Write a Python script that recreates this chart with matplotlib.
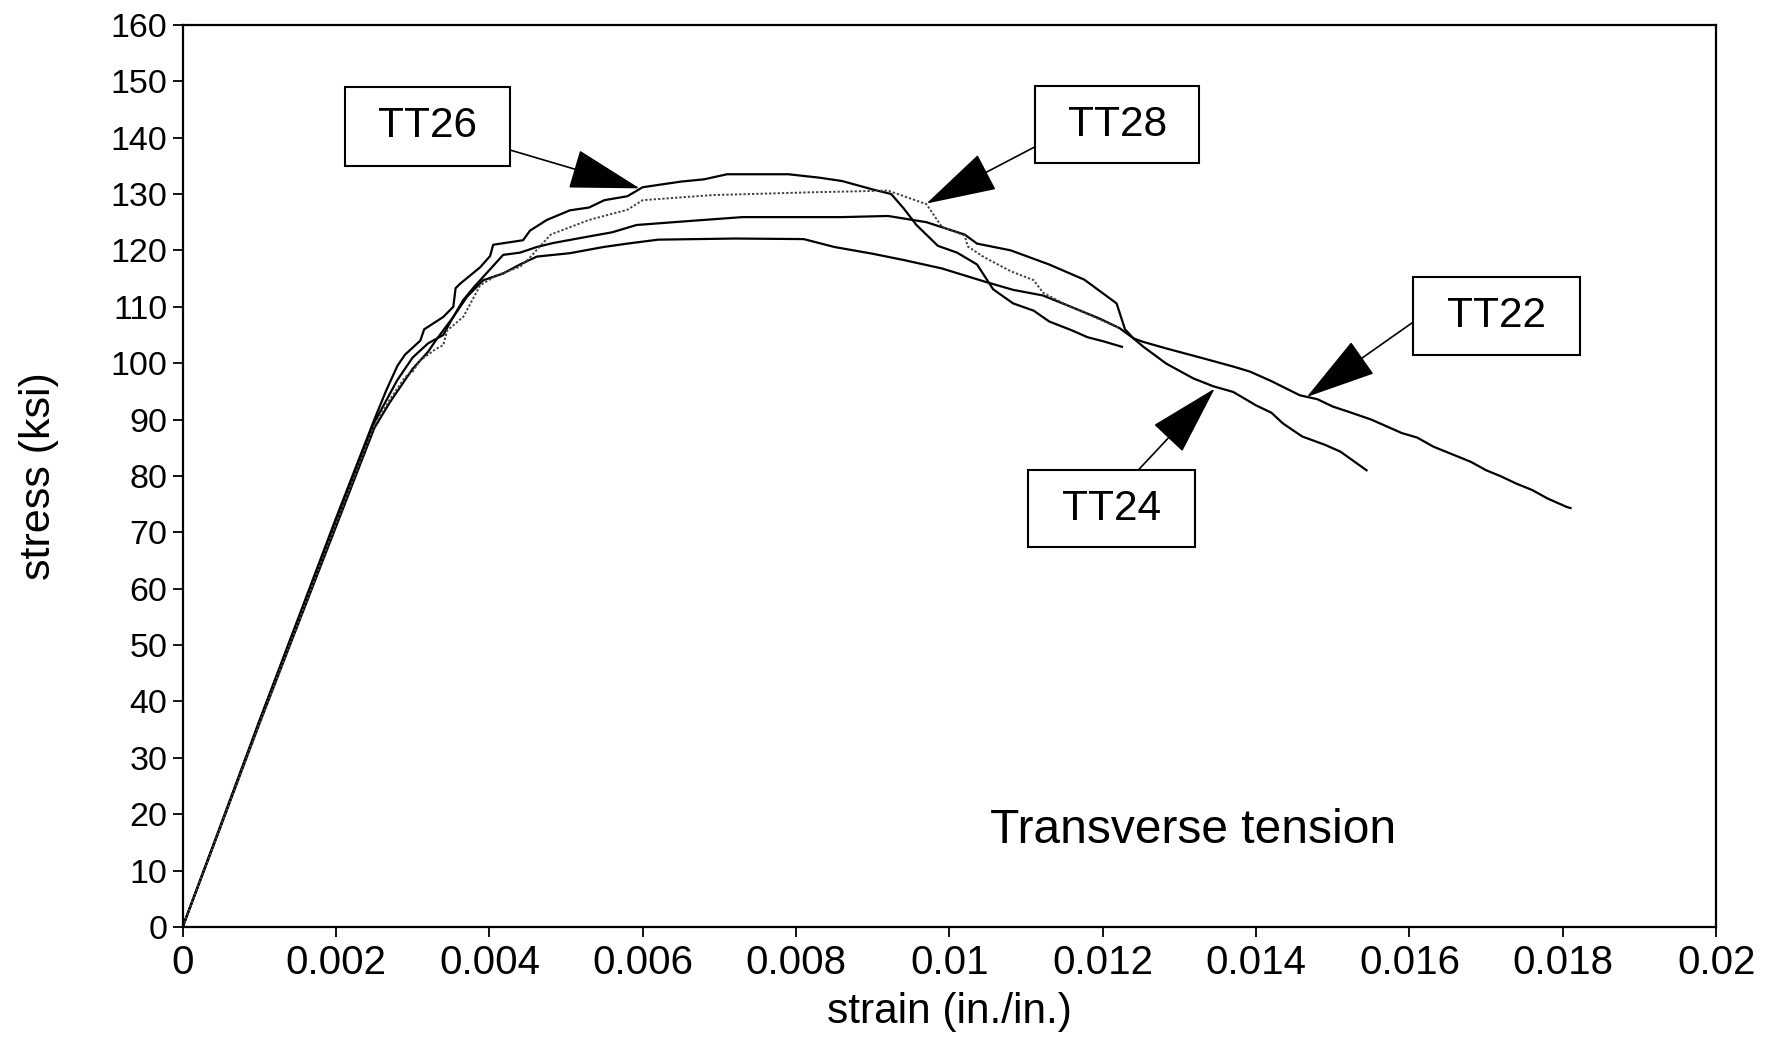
import matplotlib
matplotlib.use("Agg")
import matplotlib.pyplot as plt
from matplotlib.patches import Rectangle

plt.rcParams['font.family'] = ['Liberation Sans', 'DejaVu Sans']

# Stress-strain records, transverse tension specimens (strain in in./in., stress in ksi)
tt26_strain = [0, 0.0005, 0.0010, 0.0015, 0.0020, 0.0025, 0.00265, 0.0028, 0.0029, 0.0031,
               0.00315, 0.0034, 0.00353, 0.00356, 0.00362, 0.00388, 0.00401, 0.00405, 0.00444,
               0.00453, 0.00475, 0.00505, 0.0053, 0.0055, 0.0058, 0.0060, 0.0065, 0.0068,
               0.0071, 0.0079, 0.0083, 0.0086, 0.0090, 0.00924, 0.0094, 0.00957, 0.00985,
               0.0101, 0.01036, 0.01057, 0.01083, 0.0111, 0.0113, 0.0116, 0.0118, 0.0120,
               0.01225]
tt26_stress = [0, 18, 36.5, 54.5, 72.5, 90, 95, 99.5, 101.5, 104,
               106, 108.2, 110, 113.3, 114.1, 117, 119, 121, 121.8,
               123.5, 125.4, 127.1, 127.6, 128.9, 129.6, 131.2, 132.2, 132.6,
               133.5, 133.5, 132.9, 132.3, 130.8, 130, 127.5, 124.5, 120.8,
               119.6, 117.5, 113.1, 110.6, 109.3, 107.4, 105.8, 104.6, 103.9,
               102.9]

tt28_strain = [0, 0.001, 0.002, 0.0025, 0.0027, 0.0029, 0.0030, 0.0031, 0.0033, 0.0034,
               0.00345, 0.00366, 0.00388, 0.0041, 0.0044, 0.0045, 0.0048, 0.0053, 0.0058,
               0.0060, 0.0069, 0.0082, 0.0092, 0.0097, 0.0099, 0.0102, 0.01024, 0.01045,
               0.0108, 0.0111, 0.01122, 0.0115, 0.0119, 0.0122]
tt28_stress = [0, 36, 71.5, 89, 93.5, 97.5, 98.5, 100.5, 102.5, 103.2,
               105.8, 108.2, 113.8, 115.6, 117.1, 118.3, 122.8, 125.4, 127.2,
               128.9, 129.8, 130.3, 130.6, 128.2, 124.2, 122.6, 120.7, 118.8,
               116.3, 114.7, 112.5, 110.5, 108.1, 106.3]

tt22_strain = [0, 0.001, 0.002, 0.0025, 0.0028, 0.003, 0.0032, 0.0034, 0.0035, 0.00366,
               0.0038, 0.004, 0.00418, 0.0044, 0.00462, 0.00483, 0.00527, 0.0056, 0.00592,
               0.0066, 0.0073, 0.0086, 0.0092, 0.0097, 0.0102, 0.01036, 0.0108, 0.0113,
               0.01176, 0.01218, 0.01229, 0.0124, 0.01252, 0.01283, 0.01327, 0.0137, 0.01392,
               0.0142, 0.01457, 0.0148, 0.015, 0.0152, 0.0155, 0.0159, 0.0161, 0.01631,
               0.0166, 0.0168, 0.0170, 0.01718, 0.0174, 0.0176, 0.0178, 0.01805, 0.0181]
tt22_stress = [0, 36.5, 72, 89.5, 97, 101, 103.5, 105, 107.5, 111.2,
               113.5, 116.5, 119.2, 119.6, 120.6, 121.3, 122.4, 123.2, 124.5,
               125.2, 125.9, 125.9, 126.1, 125, 122.8, 121.2, 120, 117.5,
               114.8, 110.6, 106, 104.4, 103.8, 102.6, 101, 99.4, 98.5,
               96.8, 94.3, 93.6, 92.3, 91.4, 90, 87.6, 86.8, 85.2,
               83.6, 82.5, 81.0, 80, 78.6, 77.5, 76.0, 74.5, 74.3]

tt24_strain = [0, 0.001, 0.002, 0.0025, 0.0027, 0.003, 0.0032, 0.0033, 0.00353, 0.00371,
               0.00392, 0.00418, 0.0044, 0.00462, 0.00505, 0.00549, 0.0058, 0.0062, 0.0072,
               0.0081, 0.0085, 0.009, 0.0094, 0.0099, 0.01045, 0.01083, 0.01122, 0.01153,
               0.01196, 0.01222, 0.01239, 0.01253, 0.01283, 0.01318, 0.01344, 0.0137, 0.014,
               0.0142, 0.01435, 0.0146, 0.0149, 0.0151, 0.01544]
tt24_stress = [0, 36, 71, 88.5, 93, 99, 102, 104, 108.2, 111.8,
               114.7, 115.9, 117.5, 118.9, 119.5, 120.6, 121.2, 121.9, 122.1,
               122, 120.6, 119.4, 118.3, 116.8, 114.5, 113, 112, 110.3,
               107.9, 106.2, 104.5, 102.9, 99.9, 97.3, 95.9, 94.9, 92.5,
               91.2, 89.3, 87.0, 85.5, 84.3, 81]

x_ticks = [0, 0.002, 0.004, 0.006, 0.008, 0.01, 0.012, 0.014, 0.016, 0.018, 0.02]
x_tick_labels = ['0', '0.002', '0.004', '0.006', '0.008', '0.01', '0.012', '0.014',
                 '0.016', '0.018', '0.02']
y_ticks = list(range(0, 161, 10))

fig = plt.figure(figsize=(17.68, 10.39), dpi=100)
ax = fig.add_axes([0.1033, 0.1078, 0.8674, 0.8683])

line_kw = dict(color='black', lw=1.6, solid_joinstyle='round')
ax.plot(tt22_strain, tt22_stress, **line_kw)
ax.plot(tt24_strain, tt24_stress, **line_kw)
ax.plot(tt26_strain, tt26_stress, **line_kw)
ax.plot(tt28_strain, tt28_stress, color='#444444', lw=1.4, linestyle=(0, (1.2, 1.0)))

ax.set_xlim(0, 0.02)
ax.set_ylim(0, 160)
ax.set_xticks(x_ticks)
ax.set_xticklabels(x_tick_labels)
ax.set_yticks(y_ticks)
ax.tick_params(axis='both', direction='out', length=7, width=1.3, colors='black')
ax.tick_params(axis='x', pad=5, labelsize=29)
ax.tick_params(axis='y', pad=4, labelsize=24.5)
for s in ax.spines.values():
    s.set_linewidth(1.6)

ax.set_xlabel('strain (in./in.)', fontsize=30.5, va='center')
ax.xaxis.set_label_coords(0.5, -0.0937)
ax.set_ylabel('stress (ksi)', fontsize=31, va='center')
ax.yaxis.set_label_coords(-0.0934, 0.5)

# Labelled boxes with arrows pointing to each specimen curve
labels = [
    # text, box (x0, x1, y0, y1), arrow start, arrow tip
    ('TT26', (0.00212, 0.00427, 135.0, 149.0), (0.00427, 137.8), (0.00596, 131.0)),
    ('TT28', (0.01112, 0.01326, 135.5, 149.1), (0.01112, 138.4), (0.00970, 128.3)),
    ('TT22', (0.01605, 0.01822, 101.4, 115.2), (0.01605, 107.3), (0.01466, 94.0)),
    ('TT24', (0.01103, 0.01320, 67.4, 81.0), (0.01246, 81.0), (0.01346, 95.5)),
]
for text, (x0, x1, y0, y1), start, tip in labels:
    ax.add_patch(Rectangle((x0, y0), x1 - x0, y1 - y0, fill=True, fc='white',
                           ec='black', lw=1.5, zorder=4))
    ax.text((x0 + x1) / 2, (y0 + y1) / 2, text, ha='center', va='center',
            fontsize=30.5, zorder=5)
    ax.annotate('', xy=tip, xytext=start,
                arrowprops=dict(arrowstyle='-|>,head_length=2.3,head_width=0.65',
                                mutation_scale=20, lw=1.2, color='black',
                                fc='black', shrinkA=0, shrinkB=0),
                zorder=5)

ax.text(0.01053, 17.2, 'Transverse tension', ha='left', va='center', fontsize=34.5)

fig.savefig('out.png', dpi=100, facecolor='white')
